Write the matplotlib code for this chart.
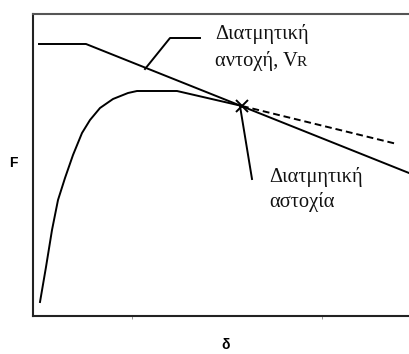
import matplotlib
matplotlib.use('Agg')
import matplotlib.pyplot as plt

# load-displacement curve (x = δ, y = F), arbitrary units
curve_d = [7, 13, 19, 25, 32, 40, 49, 57, 67, 80, 95, 104, 144, 209]
curve_F = [14, 49, 86, 116, 138, 161, 183, 196, 208, 217, 223, 225, 225, 210]

# post-failure branch (dashed)
post_d = [209, 364]
post_F = [210, 172]

# shear resistance envelope V_R
res_d = [6, 53, 376]
res_F = [272, 272, 143]

# failure point
fail_d = [209]
fail_F = [210]

# leader lines for labels
lead_vr_d = [112, 137, 167]
lead_vr_F = [247, 278, 278]
lead_fail_d = [207, 219]
lead_fail_F = [210, 137]

fig = plt.figure(figsize=(4.09, 3.54), dpi=100)
ax = fig.add_axes([33 / 409, 38 / 354, 377 / 409, 302 / 354])

lw = 1.4
ax.plot(curve_d, curve_F, color='black', lw=lw)
ax.plot(post_d, post_F, color='black', lw=lw, ls=(0, (3.5, 2)))
ax.plot(res_d, res_F, color='black', lw=lw)
ax.plot(fail_d, fail_F, marker='x', color='black', ms=9, mew=1.4)
ax.plot(lead_vr_d, lead_vr_F, color='black', lw=lw)
ax.plot(lead_fail_d, lead_fail_F, color='black', lw=lw)

serif = dict(family='Liberation Serif', fontsize=14.8, color='#111111')
ax.text(182, 277, 'Διατμητική', va='baseline', ha='left', **serif)
vr = ax.text(182, 250, 'αντοχή, V', va='baseline', ha='left', **serif)
ax.text(236, 134, 'Διατμητική', va='baseline', ha='left', **serif)
ax.text(236, 109, 'αστοχία', va='baseline', ha='left', **serif)

# small-cap subscript R placed right after the V
fig.canvas.draw()
bb = vr.get_window_extent()
ax.annotate('R', xy=(bb.x1, 0), xycoords=('figure pixels', ax.transData),
            xytext=(0.5, 250), textcoords=('offset points', ax.transData),
            va='baseline', ha='left', family='Liberation Serif',
            fontsize=11, color='#111111')

ax.set_xlim(0, 377)
ax.set_ylim(0, 302)
ax.set_xticks([99, 289])
ax.set_xticklabels([])
ax.set_yticks([])
ax.tick_params(axis='x', length=2, width=0.6, color='#888888', direction='out')

for side in ['top', 'left', 'bottom']:
    ax.spines[side].set_linewidth(1.5)
ax.spines['top'].set_color('#555555')
ax.spines['left'].set_color('#222222')
ax.spines['bottom'].set_color('#222222')
ax.spines['right'].set_visible(False)

fig.text(13 / 409, 1 - 163 / 354, 'F', ha='center', va='center',
         family='Liberation Sans', fontweight='bold', fontsize=10)
fig.text(226 / 409, 1 - 345 / 354, 'δ', ha='center', va='center',
         family='Liberation Sans', fontweight='bold', fontsize=10)

fig.savefig('out.png', dpi=100)
